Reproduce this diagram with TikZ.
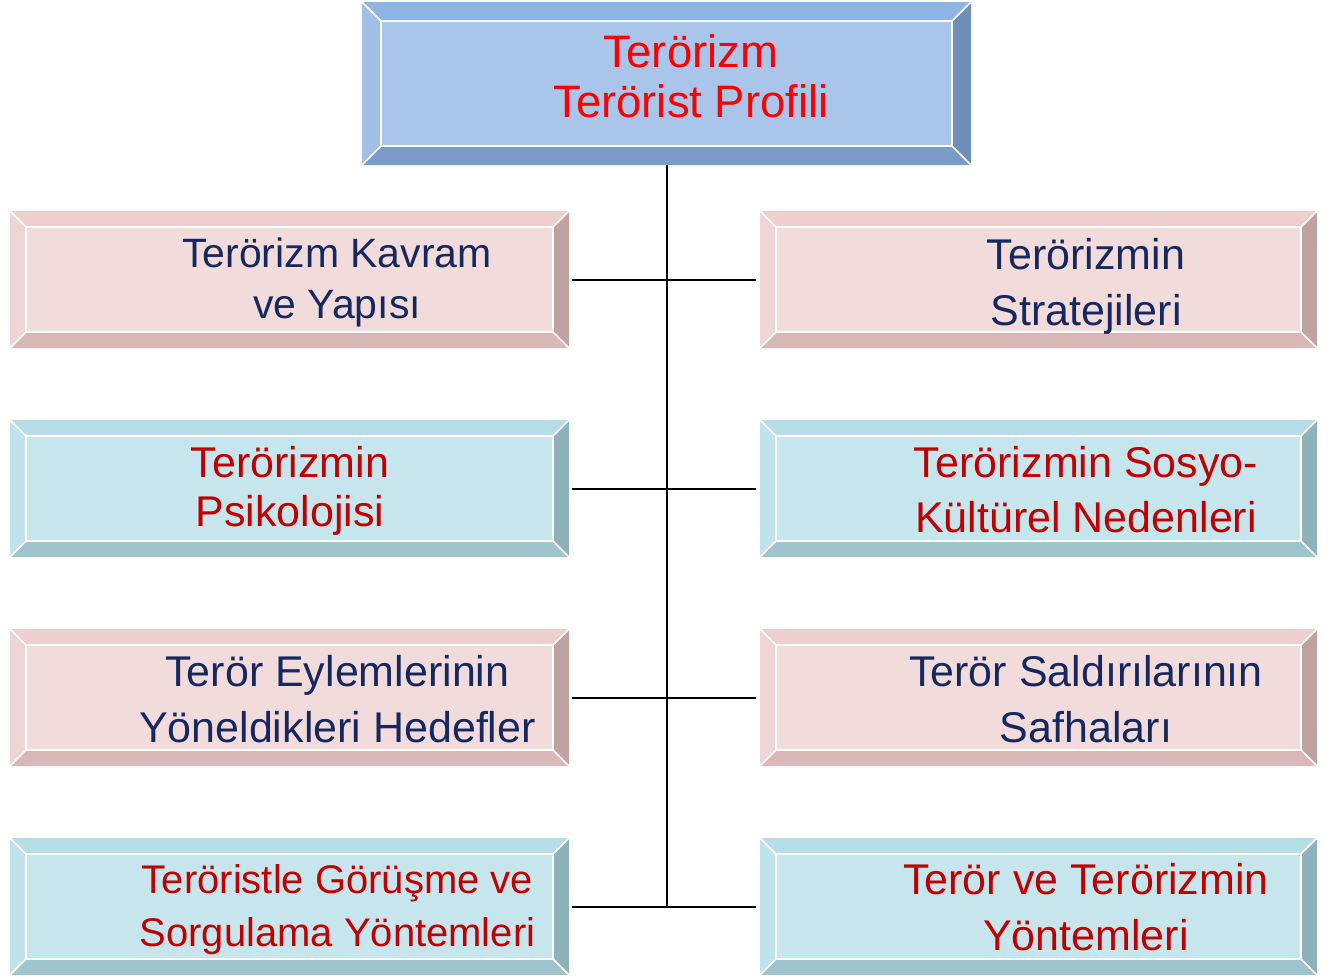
\documentclass[tikz,border=0pt]{standalone}
\usepackage{fontspec}
\setmainfont{Liberation Sans}
\definecolor{navytxt}{HTML}{17285E}
\definecolor{darkred}{HTML}{C00000}
% bevel colours: face / top / left / bottom / right
\definecolor{topF}{RGB}{169,197,233}\definecolor{topT}{RGB}{142,180,227}
\definecolor{topL}{RGB}{162,192,230}\definecolor{topB}{RGB}{123,156,201}
\definecolor{topR}{RGB}{111,142,185}
\definecolor{pinkF}{RGB}{241,220,219}\definecolor{pinkT}{RGB}{237,207,207}
\definecolor{pinkL}{RGB}{238,213,213}\definecolor{pinkB}{RGB}{216,183,183}
\definecolor{pinkR}{RGB}{191,163,163}
\definecolor{blueF}{RGB}{199,229,236}\definecolor{blueT}{RGB}{183,221,230}
\definecolor{blueL}{RGB}{192,226,234}\definecolor{blueB}{RGB}{159,196,206}
\definecolor{blueR}{RGB}{142,177,186}
\tikzset{
  top col/.store in=\topcol, left col/.store in=\leftcol,
  bot col/.store in=\botcol, right col/.store in=\rightcol,
  bevel/.store in=\bev, bevel=16pt,
  bevelbox/.style={rectangle, inner sep=0pt, path picture={
    \path (path picture bounding box.north west) coordinate (o1)
          (path picture bounding box.north east) coordinate (o2)
          (path picture bounding box.south east) coordinate (o3)
          (path picture bounding box.south west) coordinate (o4);
    \path ([xshift=\bev,yshift=-\bev]o1) coordinate (i1)
          ([xshift=-\bev,yshift=-\bev]o2) coordinate (i2)
          ([xshift=-\bev,yshift=\bev]o3) coordinate (i3)
          ([xshift=\bev,yshift=\bev]o4) coordinate (i4);
    \fill[\topcol] (o1) -- (o2) -- (i2) -- (i1) -- cycle;
    \fill[\rightcol] (o2) -- (o3) -- (i3) -- (i2) -- cycle;
    \fill[\botcol] (o3) -- (o4) -- (i4) -- (i3) -- cycle;
    \fill[\leftcol] (o4) -- (o1) -- (i1) -- (i4) -- cycle;
    \draw[white, line width=1.6pt] (i1) -- (i2) -- (i3) -- (i4) -- cycle
      (o1) -- (i1) (o2) -- (i2) (o3) -- (i3) (o4) -- (i4);
  }},
  topbox/.style={bevelbox, bevel=19pt, minimum width=609pt, minimum height=163pt, fill=topF,
    top col=topT, left col=topL, bot col=topB, right col=topR},
  pinkbox/.style={bevelbox, fill=pinkF, top col=pinkT, left col=pinkL, bot col=pinkB, right col=pinkR},
  bluebox/.style={bevelbox, fill=blueF, top col=blueT, left col=blueL, bot col=blueB, right col=blueR},
  leftbox/.style={minimum width=559pt, minimum height=137pt},
  rightbox/.style={minimum width=557pt, minimum height=137pt},
  boxtxt/.style 2 args={inner sep=0pt, align=center, font=\fontsize{#1}{#2}\selectfont},
  conn/.style={line width=2pt}
}
\begin{document}
\begin{tikzpicture}[x=1pt, y=-1pt]
  \useasboundingbox (0,0) rectangle (1341,978);
  \node[topbox] (top) at (666.5,83.5) {};
  \node[boxtxt={45.5}{50}, text=red] (toptxt) at (691,76) {Terörizm\\Terörist Profili};
  \foreach \n/\y/\s in {1/279.5/pinkbox, 2/488.5/bluebox, 3/697.5/pinkbox, 4/906.5/bluebox} {
    \node[\s, leftbox] (L\n) at (289.5,\y) {};
    \node[\s, rightbox] (R\n) at (1038.5,\y) {};
  }
  % texts
  \node[boxtxt={41}{51}, text=navytxt] (l1t) at (337,282) {Terörizm Kavram\\ve Yapısı};
  \node[boxtxt={43}{49}, text=darkred] (l2t) at (290,491) {Terörizmin\\Psikolojisi};
  \node[boxtxt={43}{56}, text=navytxt] (l3t) at (337.5,699) {Terör Eylemlerinin\\Yöneldikleri Hedefler};
  \node[boxtxt={40}{53}, text=darkred] (l4t) at (337.5,910) {Teröristle Görüşme ve\\Sorgulama Yöntemleri};
  \node[boxtxt={43}{56}, text=navytxt] (r1t) at (1086,286) {Terörizmin\\Stratejileri};
  \node[boxtxt={43}{55}, text=darkred] (r2t) at (1086,490) {Terörizmin Sosyo-\\Kültürel Nedenleri};
  \node[boxtxt={43}{56}, text=navytxt] (r3t) at (1086,699) {Terör Saldırılarının\\Safhaları};
  \node[boxtxt={43}{56}, text=darkred] (r4t) at (1086,907) {Terör ve Terörizmin\\Yöntemleri};
  % connectors
  \coordinate (trunk) at (top.south |- L4.east);
  \draw[conn] (top.south) -- (trunk);
  \foreach \n in {1,...,4} {\draw[conn] ([xshift=3pt]L\n.east) -- ([xshift=-4pt]R\n.west);}
\end{tikzpicture}
\end{document}
